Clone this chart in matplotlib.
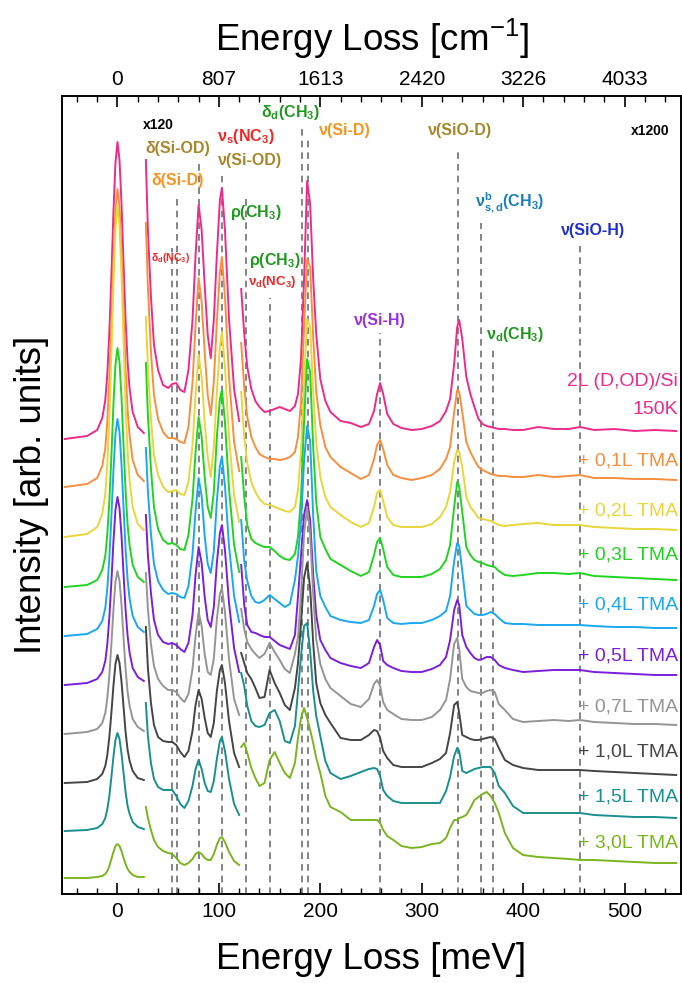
import matplotlib
matplotlib.use('Agg')
from matplotlib import pyplot as plt
import numpy as np

plt.rcParams['font.family'] = ['Liberation Sans', 'DejaVu Sans']
plt.rcParams['mathtext.fontset'] = 'custom'
plt.rcParams['mathtext.rm'] = 'Liberation Sans'
plt.rcParams['mathtext.it'] = 'Liberation Sans:italic'
plt.rcParams['mathtext.bf'] = 'Liberation Sans:bold'

# sample names and colours
names = ['2L (D,OD)/Si\n150K', '+ 0,1L TMA', '+ 0,2L TMA', '+ 0,3L TMA', '+ 0,4L TMA',
         '+ 0,5L TMA', '+ 0,7L TMA', '+ 1,0L TMA', '+ 1,5L TMA', '+ 3,0L TMA']
colors = ['#ee2a8a', '#f78f3f', '#e8d63a', '#20d420', '#1aa8f0',
          '#7b1fdc', '#959595', '#454545', '#1a8f8f', '#7ab51f']
offsets = [455, 407, 357, 307, 258, 209, 160, 111, 63, 16]

# elastic peak region (x1)
xa = [-52, -30, -20, -15, -12, -10, -8, -6, -4, -2, 0, 2, 4, 6, 8, 10, 12, 15, 20, 26]
seg_a = [
    [0, 3, 9, 21, 39, 65, 107, 163, 226, 276, 297, 279, 235, 175, 119, 77, 50, 27, 12, 6],
    [0, 3, 9, 21, 39, 66, 107, 164, 226, 277, 298, 280, 235, 176, 119, 77, 51, 27, 12, 6],
    [0, 3, 10, 23, 43, 73, 120, 183, 252, 309, 332, 312, 262, 196, 133, 86, 56, 30, 13, 7],
    [0, 2, 7, 17, 31, 53, 86, 131, 182, 222, 239, 225, 189, 141, 96, 62, 41, 22, 10, 5],
    [0, 2, 7, 15, 28, 48, 78, 119, 165, 202, 217, 204, 171, 128, 87, 56, 37, 20, 9, 4],
    [0, 2, 6, 13, 24, 41, 68, 103, 143, 175, 188, 177, 149, 111, 75, 49, 32, 17, 8, 4],
    [0, 2, 5, 11, 21, 36, 59, 90, 124, 152, 163, 153, 129, 96, 65, 42, 28, 15, 7, 3],
    [0, 1, 4, 9, 17, 28, 46, 70, 97, 119, 128, 120, 101, 76, 51, 33, 22, 12, 5, 3],
    [0, 1, 3, 7, 13, 22, 35, 54, 74, 91, 98, 92, 77, 58, 39, 25, 17, 9, 4, 2],
    [0, 0, 1, 2, 4, 7, 12, 19, 26, 32, 34, 32, 27, 20, 14, 9, 6, 3, 1, 1],
]

# x120 region
xb = [28, 30, 33, 36, 40, 45, 50, 54, 58, 62, 66, 70, 74, 77, 80, 83, 86, 89, 92, 95,
      98, 101, 103, 106, 110, 115, 120]
seg_b = [
    [279, 209, 142, 94, 69, 54, 51, 55, 56, 49, 47, 69, 119, 184, 234, 209, 154, 104, 81, 119, 184, 239, 251, 209, 120, 50, 18],
    [264, 200, 135, 92, 68, 55, 49, 49, 48, 45, 44, 60, 105, 162, 209, 185, 135, 92, 72, 105, 165, 215, 230, 190, 110, 45, 16],
    [220, 170, 118, 82, 62, 50, 45, 46, 47, 43, 42, 55, 92, 142, 182, 160, 115, 80, 60, 90, 145, 190, 205, 170, 100, 42, 15],
    [224, 172, 118, 80, 58, 47, 43, 44, 42, 38, 37, 52, 88, 135, 170, 150, 110, 80, 69, 95, 150, 188, 197, 165, 98, 42, 15],
    [188, 145, 102, 72, 55, 46, 42, 43, 42, 39, 38, 50, 82, 125, 158, 140, 100, 72, 63, 85, 135, 170, 179, 150, 90, 40, 14],
    [170, 130, 92, 65, 50, 43, 41, 42, 40, 36, 33, 42, 70, 110, 138, 122, 88, 65, 58, 78, 122, 152, 160, 135, 82, 37, 13],
    [161, 125, 90, 68, 55, 48, 44, 44, 42, 36, 32, 40, 65, 98, 122, 108, 80, 62, 59, 75, 115, 140, 146, 122, 75, 35, 19],
    [156, 115, 80, 58, 46, 42, 41, 41, 38, 31, 26, 32, 52, 78, 93, 84, 65, 50, 46, 60, 92, 113, 118, 100, 62, 30, 16],
    [128, 95, 68, 52, 44, 41, 41, 41, 35, 27, 23, 30, 45, 62, 71, 62, 48, 40, 39, 50, 72, 90, 94, 80, 52, 27, 16],
    [71, 60, 48, 38, 31, 27, 25, 24, 20, 15, 13, 15, 19, 24, 26, 24, 20, 18, 18, 24, 33, 40, 41, 36, 26, 17, 13],
]

# x1200 region
xc = [122, 125, 128, 132, 136, 140, 145, 150, 155, 160, 165, 170, 175, 178, 181, 184, 187, 190, 193, 196,
      200, 205, 210, 220, 230, 240, 248, 253, 256, 259, 262, 266, 272, 280, 290, 300, 310, 318, 324, 328,
      332, 335, 337, 340, 344, 348, 352, 356, 360, 364, 368, 372, 376, 382, 390, 400, 415, 430, 445, 456,
      470, 490, 510, 530, 551]
seg_c = [
    [150, 105, 72, 50, 38, 32, 27, 28, 30, 32, 30, 28, 33, 45, 80, 160, 258, 235, 160, 105, 60, 38, 27, 18, 16, 12, 15, 28, 45, 56, 45, 25, 15, 11, 9, 10, 13, 18, 28, 40, 75, 112, 119, 100, 62, 45, 32, 20, 15, 13, 12, 11, 10, 10, 9, 9, 12, 10, 10, 12, 9, 10, 8, 9, 8],
    [144, 100, 70, 50, 40, 33, 30, 28, 28, 27, 28, 30, 35, 50, 85, 160, 228, 220, 150, 95, 62, 40, 30, 20, 14, 8, 12, 28, 42, 47, 38, 22, 12, 9, 7, 9, 12, 18, 28, 40, 75, 97, 95, 75, 45, 35, 27, 20, 17, 15, 13, 12, 11, 11, 10, 10, 12, 10, 11, 12, 9, 9, 8, 8, 7],
    [145, 100, 74, 55, 45, 38, 33, 32, 30, 28, 26, 25, 30, 47, 85, 155, 218, 210, 145, 95, 60, 40, 30, 22, 15, 10, 14, 30, 44, 47, 36, 20, 12, 10, 10, 10, 13, 20, 30, 45, 75, 87, 85, 70, 40, 30, 25, 19, 18, 17, 16, 14, 12, 11, 12, 13, 14, 12, 12, 12, 10, 9, 8, 8, 7],
    [130, 90, 62, 48, 44, 42, 40, 40, 36, 31, 28, 27, 33, 50, 90, 165, 228, 215, 140, 85, 50, 38, 28, 22, 16, 11, 15, 32, 45, 49, 38, 20, 12, 10, 10, 10, 13, 18, 27, 42, 80, 105, 100, 75, 40, 32, 27, 25, 24, 22, 21, 20, 16, 12, 11, 12, 14, 14, 13, 14, 11, 10, 9, 8, 7],
    [116, 75, 55, 40, 34, 33, 36, 41, 37, 33, 29, 32, 56, 80, 115, 175, 210, 195, 120, 65, 40, 29, 20, 16, 14, 13, 16, 30, 42, 46, 36, 18, 13, 12, 13, 13, 16, 20, 25, 40, 75, 93, 90, 65, 30, 26, 22, 21, 21, 22, 24, 22, 18, 13, 12, 12, 11, 11, 11, 11, 10, 9, 9, 8, 8],
    [120, 80, 60, 53, 52, 50, 48, 48, 44, 40, 38, 36, 50, 88, 130, 170, 185, 165, 110, 70, 45, 35, 27, 22, 19, 17, 22, 38, 45, 40, 24, 20, 17, 14, 13, 13, 16, 20, 28, 45, 75, 85, 80, 50, 38, 32, 27, 25, 26, 28, 28, 25, 20, 17, 15, 13, 14, 15, 15, 15, 13, 12, 11, 10, 10],
    [125, 105, 92, 85, 80, 76, 80, 91, 82, 74, 65, 61, 80, 97, 140, 200, 227, 200, 140, 95, 70, 55, 46, 38, 30, 27, 35, 50, 54, 48, 32, 24, 20, 15, 14, 14, 17, 24, 34, 55, 90, 96, 85, 55, 47, 43, 42, 41, 41, 43, 44, 42, 30, 24, 15, 12, 13, 14, 13, 14, 12, 11, 10, 10, 9],
    [130, 120, 110, 104, 95, 85, 86, 113, 100, 90, 78, 73, 95, 120, 160, 205, 220, 195, 140, 100, 80, 68, 60, 45, 43, 43, 48, 53, 52, 45, 32, 25, 18, 16, 16, 16, 20, 24, 30, 50, 78, 81, 70, 48, 46, 44, 43, 43, 44, 45, 46, 44, 35, 23, 18, 15, 13, 13, 13, 13, 12, 11, 10, 9, 8],
    [158, 145, 125, 110, 105, 104, 106, 118, 121, 110, 90, 88, 105, 140, 175, 205, 208, 180, 140, 115, 95, 70, 58, 52, 55, 59, 62, 63, 62, 55, 41, 35, 30, 28, 28, 28, 28, 28, 40, 54, 75, 83, 80, 60, 58, 60, 62, 63, 64, 64, 64, 58, 45, 38, 25, 18, 18, 18, 18, 18, 16, 15, 14, 14, 13],
    [131, 135, 125, 110, 100, 92, 95, 118, 126, 115, 105, 100, 115, 140, 160, 170, 160, 148, 135, 120, 105, 82, 71, 66, 58, 58, 58, 58, 58, 55, 48, 42, 38, 32, 30, 31, 34, 35, 40, 50, 58, 58, 60, 61, 63, 70, 78, 81, 84, 86, 82, 75, 65, 45, 30, 23, 21, 20, 19, 18, 18, 17, 16, 15, 15],
]

# vibrational mode markers (meV) and the height their dashed lines reach
mode_x = [53.5, 59.0, 80.4, 103.4, 126.7, 150.4, 181.7, 187.6, 258.9, 336.1, 358.5, 370.0, 456.1]
mode_top = [646, 696, 733, 718, 696, 596, 766, 756, 561, 746, 671, 546, 648]

# vertical position of the sample names on the right
label_y = [513, 433, 383, 339, 289, 238, 187, 142, 97, 51]

fig = plt.figure(figsize=(6.82, 9.83), dpi=100)
ax = fig.add_axes([62/682, 89/983, 619/682, 798/983])

ax.vlines(mode_x, 0, mode_top, colors='#707070', linestyles=(0, (4, 3)), linewidth=1.2, zorder=1)

for i in range(len(names)):
    for xs, ys in ((xa, seg_a[i]), (xb, seg_b[i]), (xc, seg_c[i])):
        ax.plot(xs, np.array(ys) + offsets[i], color=colors[i], lw=1.4, zorder=2)
    if i == 0:
        ax.text(553, label_y[0], '2L (D,OD)/Si', color=colors[i], fontsize=14, ha='right', va='center')
        ax.text(553, label_y[0] - 29, '150K', color=colors[i], fontsize=14, ha='right', va='center')
    else:
        ax.text(553, label_y[i], names[i], color=colors[i], fontsize=14, ha='right', va='center')

bold = dict(fontweight='bold', ha='center', va='center')
brown, orange, red, green = '#a8862a', '#f7941d', '#f52525', '#1f9a1f'
ax.text(39.9, 769, 'x120', color='k', fontsize=10, **bold)
ax.text(525, 763, 'x1200', color='k', fontsize=10, **bold)
ax.text(59.7, 745, 'δ(Si-OD)', color=brown, fontsize=11.5, **bold)
ax.text(59.7, 713, 'δ(Si-D)', color=orange, fontsize=11.5, **bold)
ax.text(51.8, 636, r'δ$_\mathbf{d}$(NC$_\mathbf{3}$)', color=red, fontsize=7.5, **bold)
ax.text(126.7, 758, r'ν$_\mathbf{s}$(NC$_\mathbf{3}$)', color=red, fontsize=11.5, **bold)
ax.text(130.7, 733, 'ν(Si-OD)', color=brown, fontsize=11.5, **bold)
ax.text(136.6, 681, r'ρ(CH$_\mathbf{3}$)', color=green, fontsize=11.5, **bold)
ax.text(170.1, 781, r'δ$_\mathbf{d}$(CH$_\mathbf{3}$)', color=green, fontsize=11.5, **bold)
ax.text(155.3, 634, r'ρ(CH$_\mathbf{3}$)', color=green, fontsize=11.5, **bold)
ax.text(152.4, 612, r'ν$_\mathbf{d}$(NC$_\mathbf{3}$)', color=red, fontsize=9.5, **bold)
ax.text(224.4, 763, 'ν(Si-D)', color=orange, fontsize=11.5, **bold)
ax.text(337.8, 764, 'ν(SiO-D)', color=brown, fontsize=11.5, **bold)
ax.text(387.1, 691, r'ν$^\mathbf{b}_\mathbf{s,d}$(CH$_\mathbf{3}$)', color='#1a7fc0', fontsize=11.5, **bold)
ax.text(468.9, 663, 'ν(SiO-H)', color='#2030d0', fontsize=11.5, **bold)
ax.text(258.9, 574, 'ν(Si-H)', color='#9a30e0', fontsize=11.5, **bold)
ax.text(392, 559, r'ν$_\mathbf{d}$(CH$_\mathbf{3}$)', color=green, fontsize=11.5, **bold)

ax.set_xlim(-54.7, 555.7)
ax.set_ylim(0, 798)
ax.set_yticks([])
ax.set_xticks([0, 100, 200, 300, 400, 500])
ax.set_xticks(np.arange(-40, 556, 20), minor=True)
ax.tick_params(axis='x', which='major', direction='in', length=8, width=1.2, labelsize=15, pad=6)
ax.tick_params(axis='x', which='minor', direction='in', length=4, width=1.0)
ax.set_xlabel('Energy Loss [meV]', fontsize=26.5, labelpad=15)
ax.set_ylabel('Intensity [arb. units]', fontsize=26.5, labelpad=9)

top = ax.twiny()
top.set_xlim(ax.get_xlim())
top.set_xticks([0, 100, 200, 300, 400, 500])
top.set_xticklabels(['0', '807', '1613', '2420', '3226', '4033'])
top.set_xticks(np.arange(-40, 556, 20), minor=True)
top.tick_params(axis='x', which='major', direction='in', length=8, width=1.2, labelsize=15, pad=5)
top.tick_params(axis='x', which='minor', direction='in', length=4, width=1.0)
top.set_xlabel('Energy Loss [cm$^{\\mathrm{-1}}$]', fontsize=26.5, labelpad=14)

for a in (ax, top):
    for s in a.spines.values():
        s.set_linewidth(1.2)

fig.savefig('out.png', dpi=100)
